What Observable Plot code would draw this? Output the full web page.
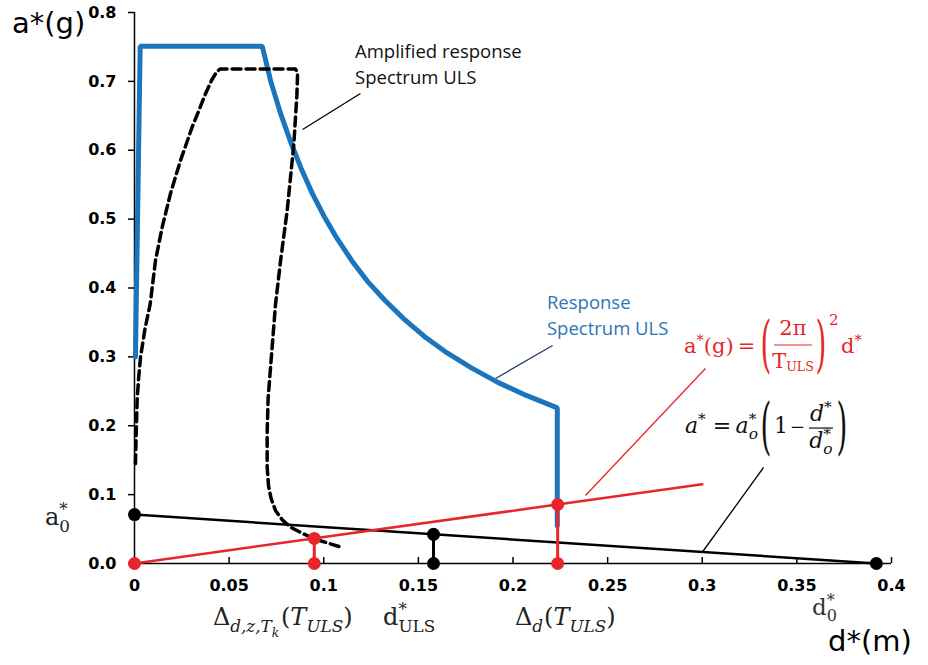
<!DOCTYPE html>
<html>
<head>
<meta charset="utf-8">
<script src="https://cdn.jsdelivr.net/npm/d3@7"></script>
<script src="https://cdn.jsdelivr.net/npm/@observablehq/plot@0.6"></script>
<style>
  body { margin: 0; background: #fff; }
  svg text { white-space: pre; }
</style>
</head>
<body>
<div id="chart"></div>
<script>
// Axes
const xDomain = [0, 0.4];
const yDomain = [0, 0.8];
const xTicks = [0, 0.05, 0.1, 0.15, 0.2, 0.25, 0.3, 0.35, 0.4];
const yTicks = [0, 0.1, 0.2, 0.3, 0.4, 0.5, 0.6, 0.7, 0.8];

// Response spectrum ULS in ADRS format (d* in m, a* in g)
const spectrumD = [0.0005, 0.003, 0.0675, 0.072, 0.077, 0.0825, 0.088, 0.094, 0.1, 0.107, 0.115, 0.123, 0.132, 0.142, 0.153, 0.165, 0.178, 0.192, 0.207, 0.2234, 0.2234];
const spectrumA = [0.30, 0.751, 0.751, 0.70, 0.655, 0.612, 0.574, 0.537, 0.505, 0.472, 0.439, 0.41, 0.383, 0.356, 0.33, 0.306, 0.284, 0.263, 0.244, 0.226, 0.055];

// Amplified response spectrum ULS
const amplifiedD = [0.0005, 0.0009, 0.0014, 0.0022, 0.0032, 0.0055, 0.0083, 0.0111, 0.0146, 0.019, 0.0243, 0.0305, 0.0342, 0.0375, 0.0408, 0.0432, 0.0452, 0.085, 0.0862, 0.0858, 0.0842, 0.0807, 0.0772, 0.0745, 0.0719, 0.0706, 0.0701, 0.0701, 0.0708, 0.0722, 0.0745, 0.0782, 0.0825, 0.0885, 0.0948, 0.108];
const amplifiedA = [0.145, 0.19, 0.237, 0.27, 0.30, 0.34, 0.377, 0.44, 0.488, 0.537, 0.585, 0.634, 0.659, 0.682, 0.702, 0.713, 0.718, 0.718, 0.713, 0.68, 0.609, 0.513, 0.44, 0.376, 0.285, 0.24, 0.19, 0.14, 0.113, 0.094, 0.077, 0.063, 0.0527, 0.044, 0.0359, 0.0247];

// Capacity line a* = a0* (1 - d*/d0*)
const capacityD = [0, 0.392];
const capacityA = [0.071, 0];

// Demand line a* = (2π/T_ULS)^2 d*
const demandD = [0, 0.3];
const demandA = [0, 0.115];

// Marked points: [d*, a*]
const redStems = [[0.095, 0.0364], [0.2236, 0.0857]];
const blackStems = [[0.158, 0.0424]];
const redDots = [[0, 0], [0.095, 0], [0.095, 0.0364], [0.2236, 0], [0.2236, 0.0857]];
const blackDots = [[0, 0.071], [0.158, 0], [0.158, 0.0424], [0.392, 0]];

// Leader lines for the annotations: [d1, a1, d2, a2]
const leaderAmplified = [0.1194, 0.6824, 0.0888, 0.6301];
const leaderSpectrum = [0.2209, 0.3165, 0.1908, 0.2686];
const leaderDemand = [0.3017, 0.2831, 0.2383, 0.0987];
const leaderCapacity = [0.3324, 0.1394, 0.3001, 0.0167];

const BLUE = "#1B75BC";
const RED = "#E8262A";

const toRows = (ds, as) => ds.map((d, i) => ({d, a: as[i]}));
const pairRows = (pairs) => pairs.map(([d, a]) => ({d, a}));
const leaderRow = ([x1, y1, x2, y2]) => [{x1, y1, x2, y2}];

const chart = Plot.plot({
  width: 928,
  height: 665,
  marginLeft: 134,
  marginRight: 37,
  marginTop: 12,
  marginBottom: 102,
  x: {domain: xDomain},
  y: {domain: yDomain},
  style: {fontFamily: "DejaVu Sans", fontSize: "16px", color: "#000", background: "#fff", overflow: "visible"},
  marks: [
    Plot.axisY({ticks: yTicks, tickFormat: d => d.toFixed(1), tickSize: 6, tickPadding: 12, label: null, fontWeight: "bold", fontSize: 16, strokeWidth: 1.5}),
    Plot.axisX({ticks: xTicks, tickSize: -6, tickFormat: () => "", label: null, strokeWidth: 1.5}),
    Plot.axisX({ticks: xTicks, tickSize: 0, tickPadding: 16, tickFormat: d => String(d), label: null, fontWeight: "bold", fontSize: 16}),
    // axis lines
    Plot.ruleX([xDomain[0]], {y1: yDomain[0], y2: yDomain[1], stroke: "#000", strokeWidth: 1.5}),
    Plot.ruleY([yDomain[0]], {x1: xDomain[0], x2: xDomain[1], stroke: "#000", strokeWidth: 1.5}),
    // spectra
    Plot.line(toRows(spectrumD, spectrumA), {x: "d", y: "a", stroke: BLUE, strokeWidth: 5, strokeLinejoin: "miter"}),
    Plot.line(toRows(capacityD, capacityA), {x: "d", y: "a", stroke: "#000", strokeWidth: 2.5}),
    Plot.line(toRows(amplifiedD, amplifiedA), {x: "d", y: "a", stroke: "#000", strokeWidth: 3.5, strokeDasharray: "9,5"}),
    Plot.line(toRows(demandD, demandA), {x: "d", y: "a", stroke: RED, strokeWidth: 2.5}),
    // stems
    Plot.ruleX(pairRows(redStems), {x: "d", y1: 0, y2: "a", stroke: RED, strokeWidth: 3}),
    Plot.ruleX(pairRows(blackStems), {x: "d", y1: 0, y2: "a", stroke: "#000", strokeWidth: 3}),
    Plot.dot(pairRows(blackDots), {x: "d", y: "a", r: 6.5, fill: "#000"}),
    Plot.dot(pairRows(redDots), {x: "d", y: "a", r: 6.5, fill: RED}),
    // leaders
    Plot.link(leaderRow(leaderAmplified), {x1: "x1", y1: "y1", x2: "x2", y2: "y2", stroke: "#000", strokeWidth: 1.3}),
    Plot.link(leaderRow(leaderSpectrum), {x1: "x1", y1: "y1", x2: "x2", y2: "y2", stroke: "#1F3864", strokeWidth: 1.3}),
    Plot.link(leaderRow(leaderDemand), {x1: "x1", y1: "y1", x2: "x2", y2: "y2", stroke: RED, strokeWidth: 1.3}),
    Plot.link(leaderRow(leaderCapacity), {x1: "x1", y1: "y1", x2: "x2", y2: "y2", stroke: "#000", strokeWidth: 1.3})
  ]
});

document.getElementById("chart").appendChild(chart);

const svg = d3.select(chart);
const sx = chart.scale("x"), sy = chart.scale("y");
const X = v => sx.apply(v), Y = v => sy.apply(v);

// Rich text: sequence of parts with super/subscripts, measured as they are laid out
function rich(x, y, parts, o = {}) {
  const {size = 22, family = "DejaVu Serif", fill = "#000", anchor = "start", italic = false} = o;
  const g = svg.append("g")
    .attr("fill", fill)
    .attr("font-family", family)
    .attr("text-anchor", "start");
  let cursor = 0, lastStart = 0;
  for (const p of parts) {
    const fs = size * (p.s ?? 1);
    const start = p.stack ? lastStart : cursor + (p.dx ?? 0);
    const t = g.append("text")
      .attr("x", start)
      .attr("y", (p.rise ?? 0) * size)
      .attr("font-size", fs)
      .attr("font-style", (p.it ?? italic) ? "italic" : "normal")
      .text(p.t);
    const w = t.node().getComputedTextLength();
    if (!p.stack) lastStart = start;
    cursor = Math.max(cursor, start + w);
  }
  const shift = anchor === "middle" ? -cursor / 2 : anchor === "end" ? -cursor : 0;
  g.attr("transform", `translate(${x + shift},${y})`);
  return g;
}

// Tall bracket spanning [top, bottom]
function paren(ch, cx, top, bottom, fill) {
  const fs = (bottom - top) / 0.89;
  svg.append("text")
    .attr("transform", `translate(${cx},${bottom - 0.13 * fs}) scale(0.45,1)`)
    .attr("text-anchor", "middle")
    .attr("font-family", "DejaVu Serif")
    .attr("font-size", fs)
    .attr("fill", fill)
    .text(ch);
}

function bar(x1, x2, y, stroke) {
  svg.append("line").attr("x1", x1).attr("x2", x2).attr("y1", y).attr("y2", y)
    .attr("stroke", stroke).attr("stroke-width", 1.2);
}

// Axis titles
rich(X(-0.0645), Y(0.769), [{t: "a*(g)"}], {size: 29, family: "DejaVu Sans"});
rich(X(0.3667), Y(-0.1276), [{t: "d*(m)"}], {size: 29, family: "DejaVu Sans"});

// Curve labels
rich(X(0.1168), Y(0.7332), [{t: "Amplified response"}], {size: 18.5, family: "Open Sans", fill: "#111"});
rich(X(0.1168), Y(0.7332) + 26, [{t: "Spectrum ULS"}], {size: 18.5, family: "Open Sans", fill: "#111"});
rich(X(0.2182), Y(0.3688), [{t: "Response"}], {size: 18.5, family: "Open Sans", fill: "#2E75B6"});
rich(X(0.2182), Y(0.3688) + 26, [{t: "Spectrum ULS"}], {size: 18.5, family: "Open Sans", fill: "#2E75B6"});

// Point labels
const sup = {s: 0.7, rise: -0.4};
rich(X(-0.047), Y(0.0552), [{t: "a"}, {t: "*", ...sup}, {t: "0", s: 0.7, rise: 0.28, stack: true}], {size: 24, fill: "#222"});
rich(X(0.0417), Y(-0.0900), [{t: "Δ"}, {t: "d,z,T", s: 0.7, rise: 0.3, it: true}, {t: "k", s: 0.5, rise: 0.5, it: true}, {t: "(", dx: 2}, {t: "T", it: true}, {t: "ULS", s: 0.7, rise: 0.28, it: true}, {t: ")"}], {size: 24, fill: "#222"});
rich(X(0.1316), Y(-0.0900), [{t: "d"}, {t: "*", ...sup}, {t: "ULS", s: 0.7, rise: 0.28, stack: true}], {size: 24, fill: "#222"});
rich(X(0.2013), Y(-0.0900), [{t: "Δ"}, {t: "d", s: 0.7, rise: 0.3, it: true}, {t: "(", dx: 1}, {t: "T", it: true}, {t: "ULS", s: 0.7, rise: 0.28, it: true}, {t: ")"}], {size: 24, fill: "#222"});
rich(X(0.3583), Y(-0.0755), [{t: "d"}, {t: "*", ...sup}, {t: "0", s: 0.7, rise: 0.28, stack: true}], {size: 23, fill: "#333"});

// Demand formula a*(g) = (2π / T_ULS)^2 d*
{
  const x0 = X(0.2906), y0 = Y(0.3049);
  rich(x0, y0, [{t: "a"}, {t: "*", ...sup}, {t: "(g)\u2009=\u2009"}], {size: 21, fill: RED});
  paren("(", x0 + 82, y0 - 35, y0 + 20, RED);
  rich(x0 + 109, y0 - 18, [{t: "2π"}], {size: 21, fill: RED, anchor: "middle"});
  bar(x0 + 90, x0 + 128, y0 - 8, RED);
  rich(x0 + 109, y0 + 15, [{t: "T"}, {t: "ULS", s: 0.6, rise: 0.15}], {size: 21, fill: RED, anchor: "middle"});
  paren(")", x0 + 137, y0 - 35, y0 + 20, RED);
  rich(x0 + 145, y0 - 28, [{t: "2"}], {size: 15, fill: RED});
  rich(x0 + 157, y0, [{t: "d"}, {t: "*", ...sup}], {size: 21, fill: RED});
}

// Capacity formula a* = a_o* (1 - d*/d_o*)
{
  const x0 = X(0.2911), y0 = Y(0.1887), ink = "#111";
  rich(x0, y0, [{t: "a", it: true}, {t: "*", ...sup}, {t: " =\u2009"}, {t: "a", it: true}, {t: "*", ...sup}, {t: "o", s: 0.7, rise: 0.25, it: true, stack: true}], {size: 22, fill: ink});
  paren("(", x0 + 81, y0 - 33, y0 + 22, ink);
  rich(x0 + 89, y0, [{t: "1"}], {size: 22, fill: ink});
  rich(x0 + 105, y0, [{t: "−"}], {size: 18, fill: ink});
  rich(x0 + 136, y0 - 12, [{t: "d", it: true}, {t: "*", ...sup}], {size: 22, fill: ink, anchor: "middle"});
  bar(x0 + 124, x0 + 148, y0 - 5, ink);
  rich(x0 + 136, y0 + 15, [{t: "d", it: true}, {t: "*", ...sup}, {t: "o", s: 0.7, rise: 0.25, it: true, stack: true}], {size: 22, fill: ink, anchor: "middle"});
  paren(")", x0 + 157, y0 - 33, y0 + 22, ink);
}
</script>
</body>
</html>
